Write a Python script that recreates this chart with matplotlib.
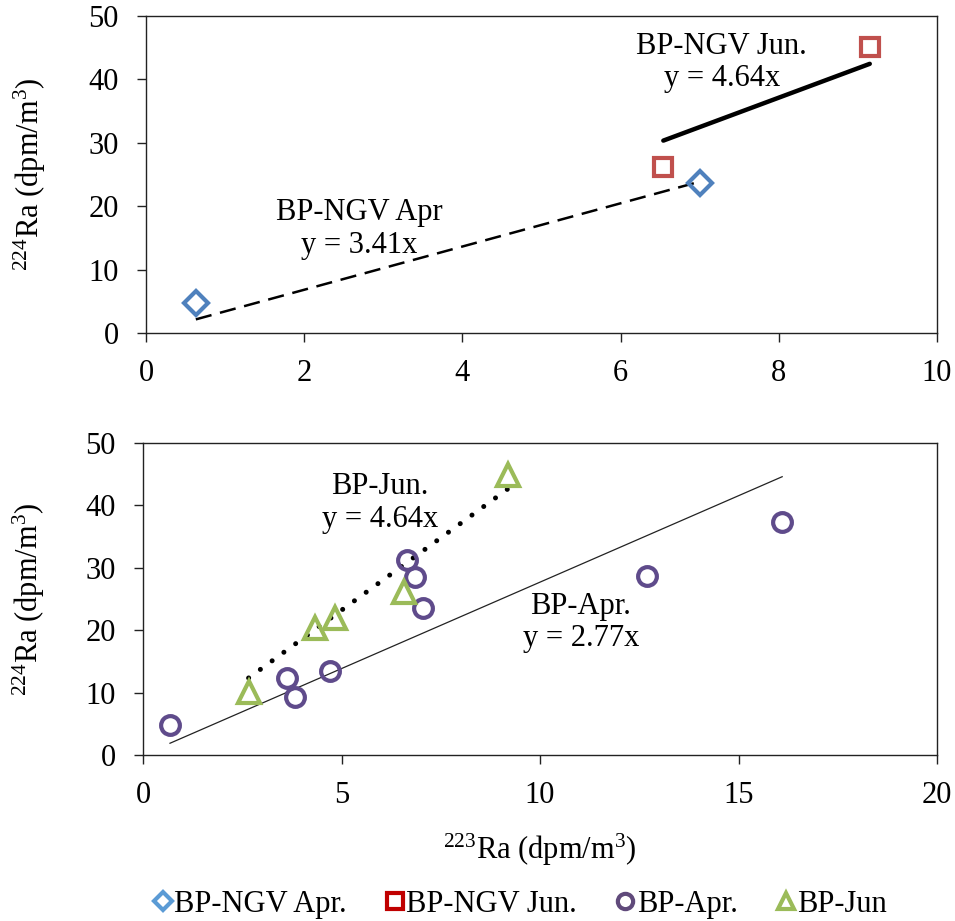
import matplotlib
matplotlib.use('Agg')
import matplotlib.pyplot as plt
from matplotlib.lines import Line2D

plt.rcParams['font.family'] = 'Liberation Serif'
plt.rcParams['mathtext.fontset'] = 'custom'
plt.rcParams['mathtext.rm'] = 'Liberation Serif'
plt.rcParams['mathtext.it'] = 'Liberation Serif:italic'

# ust panel: BP-NGV
ngv_apr_x = [0.63, 7.0]
ngv_apr_y = [4.7, 23.7]
ngv_jun_x = [6.54, 9.15]
ngv_jun_y = [26.2, 45.1]
ngv_apr_slope = 3.41
ngv_jun_slope = 4.64

# alt panel: BP
bp_apr_x = [0.68, 3.62, 3.83, 4.70, 6.66, 6.86, 7.05, 12.7, 16.1]
bp_apr_y = [4.8, 12.3, 9.3, 13.5, 31.2, 28.5, 23.5, 28.7, 37.4]
bp_jun_x = [2.66, 4.33, 4.83, 6.58, 9.2]
bp_jun_y = [10.1, 20.3, 22.0, 26.1, 44.9]
bp_apr_slope = 2.77
bp_jun_slope = 4.64

legend_labels = ['BP-NGV Apr.', 'BP-NGV Jun.', 'BP-Apr.', 'BP-Jun']

blue = '#4F81BD'
red = '#C0504D'
purple = '#5F4B8B'
green = '#9BBB59'

ylab = r'$^{224}$Ra (dpm/m$^{3}$)'
xlab = r'$^{223}$Ra (dpm/m$^{3}$)'


def fit_line(xs, slope):
    x0, x1 = min(xs), max(xs)
    return [x0, x1], [slope * x0, slope * x1]


def style_axes(ax):
    for s in ax.spines.values():
        s.set_linewidth(1.0)
        s.set_color('#222222')
    ax.tick_params(direction='out', length=6.5, width=1.0, labelsize=22, color='#222222')
    ax.tick_params(axis='x', pad=12)
    ax.tick_params(axis='y', pad=13)


fig = plt.figure(figsize=(9.55, 9.21), dpi=100)
ax1 = fig.add_axes([146 / 955, 1 - 333 / 921, (937 - 146) / 955, (333 - 16) / 921])
ax2 = fig.add_axes([143 / 955, 1 - 755 / 921, (937 - 143) / 955, (755 - 443) / 921])

# ust grafik
lx, ly = fit_line(ngv_apr_x, ngv_apr_slope)
ax1.plot(lx, ly, color='black', lw=1.8, ls=(0, (6.5, 3.5)), zorder=2)
lx, ly = fit_line(ngv_jun_x, ngv_jun_slope)
ax1.plot(lx, ly, color='black', lw=3.2, solid_capstyle='round', zorder=2)
ax1.plot(ngv_apr_x, ngv_apr_y, ls='none', marker='D', ms=12.5, mfc='none', mec=blue, mew=3, zorder=3)
ax1.plot(ngv_jun_x, ngv_jun_y, ls='none', marker='s', ms=13.5, mfc='none', mec=red, mew=3, zorder=3)
ax1.text(2.70, 16.4, 'BP-NGV Apr\ny = 3.41x', ha='center', va='center', fontsize=22, linespacing=1.15)
ax1.text(7.28, 42.7, 'BP-NGV Jun.\ny = 4.64x', ha='center', va='center', fontsize=22, linespacing=1.15)
ax1.set_xlim(0, 10)
ax1.set_ylim(0, 50)
ax1.set_xticks([0, 2, 4, 6, 8, 10])
ax1.set_yticks([0, 10, 20, 30, 40, 50])
ax1.set_ylabel(ylab, fontsize=22)
ax1.yaxis.set_label_coords(-0.124, 0.5)
style_axes(ax1)

# alt grafik
lx, ly = fit_line(bp_apr_x, bp_apr_slope)
ax2.plot(lx, ly, color='#222222', lw=0.9, zorder=2)
lx, ly = fit_line(bp_jun_x, bp_jun_slope)
ax2.plot(lx, ly, color='black', lw=3.6, ls=(0, (0.01, 2.9)), dash_capstyle='round', zorder=2)
ax2.plot(bp_apr_x, bp_apr_y, ls='none', marker='o', ms=13.5, mfc='none', mec=purple, mew=3, zorder=3)
ax2.plot(bp_jun_x, bp_jun_y, ls='none', marker='^', ms=16, mfc='none', mec=green, mew=3, zorder=3)
ax2.text(5.97, 40.4, 'BP-Jun.\ny = 4.64x', ha='center', va='center', fontsize=22, linespacing=1.15)
ax2.text(11.03, 21.2, 'BP-Apr.\ny = 2.77x', ha='center', va='center', fontsize=22, linespacing=1.15)
ax2.set_xlim(0, 20)
ax2.set_ylim(0, 50)
ax2.set_xticks([0, 5, 10, 15, 20])
ax2.set_yticks([0, 10, 20, 30, 40, 50])
ax2.set_ylabel(ylab, fontsize=22)
ax2.yaxis.set_label_coords(-0.121, 0.5)
ax2.set_xlabel(xlab, fontsize=22, labelpad=16)
style_axes(ax2)

# lejant
handles = [
    Line2D([], [], ls='none', marker='D', ms=9, mfc='none', mec='#5B9BD5', mew=3),
    Line2D([], [], ls='none', marker='s', ms=11, mfc='none', mec='#C00000', mew=3),
    Line2D([], [], ls='none', marker='o', ms=11, mfc='none', mec='#604A7B', mew=3),
    Line2D([], [], ls='none', marker='^', ms=12, mfc='none', mec=green, mew=3),
]
fig.legend(handles, legend_labels, loc='center', bbox_to_anchor=(0.545, 1 - 904 / 921), ncol=4,
           frameon=False, fontsize=22, handlelength=0.55, handletextpad=0.1, columnspacing=1.3,
           borderpad=0)

fig.savefig('out.png', dpi=100)
